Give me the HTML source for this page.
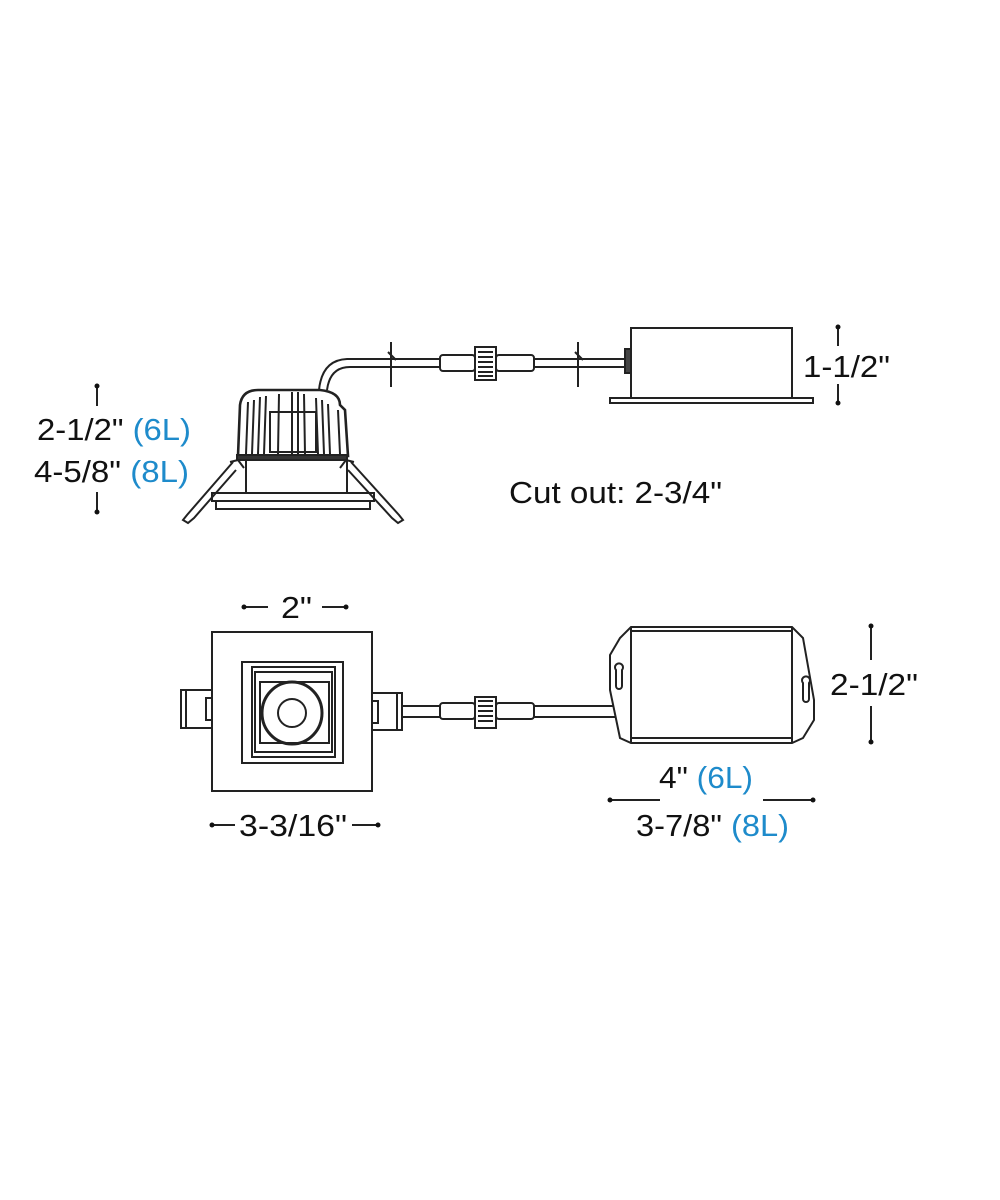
<!DOCTYPE html>
<html><head><style>
html,body{margin:0;padding:0;background:#fff;}
svg{display:block}
text{font-family:"Liberation Sans",sans-serif;font-size:31px;fill:#111;}
.b{fill:#1e8bcb;}
</style></head><body>
<svg width="1000" height="1200" viewBox="0 0 1000 1200" xmlns="http://www.w3.org/2000/svg">
<g fill="none" stroke="#222" stroke-width="2">
<rect x="631" y="328" width="161" height="72" fill="#fff"/>
<rect x="610" y="398" width="203" height="5" fill="#fff"/>
<rect x="625" y="349" width="6" height="24" fill="#444"/>
<path d="M319 390 Q322 360 347 359 L440 359 M327 390 Q330 367 350 367 L440 367"/>
<path d="M534 359 L625 359 M534 367 L625 367"/>
<rect x="440" y="355" width="35" height="16" rx="3" fill="#fff"/>
<rect x="496" y="355" width="38" height="16" rx="3" fill="#fff"/>
<rect x="475" y="347" width="21" height="33" fill="#fff"/>
<path d="M478 352h15M478 357h15M478 362h15M478 367h15M478 372h15M478 376h15"/>
<path d="M391 342 L391 387 M388 352 L396 360 M578 342 L578 387 M575 352 L583 360"/>
<path d="M238 456 L240 405 Q242 390 258 390 L320 390 Q340 392 340 405 L345 410 L348 456 Z" fill="#fff" stroke-width="2.6"/>
<path d="M246 454 L248 402 M252 454 L254 400 M258 454 L260 397 M264 454 L266 396 M278 454 L279 394 M292 454 L292 392 M298 454 L298 392 M305 454 L304 394 M318 454 L316 398 M324 454 L322 400 M330 454 L328 404 M340 454 L338 410"/>
<rect x="270" y="412" width="46" height="40"/>
<rect x="237" y="455" width="110" height="5" fill="#333"/>
<rect x="246" y="460" width="101" height="33" fill="#fff"/>
<rect x="212" y="493" width="162" height="8" fill="#fff"/>
<rect x="216" y="501" width="154" height="8" fill="#fff"/>
<path d="M233 462 L187 515 L183 520 L188 523 L194 518 L236 470 M230 462 L238 460 L244 468" />
<path d="M351 462 L399 515 L403 520 L398 523 L392 518 L348 470 M354 462 L346 460 L340 468" />
<rect x="212" y="632" width="160" height="159" fill="#fff"/>
<rect x="242" y="662" width="101" height="101"/>
<rect x="252" y="667" width="83" height="90"/>
<rect x="255" y="672" width="77" height="80"/>
<rect x="260" y="682" width="69" height="61"/>
<ellipse cx="292" cy="713" rx="30" ry="31" stroke-width="3"/>
<ellipse cx="292" cy="713" rx="14" ry="14"/>
<rect x="181" y="690" width="31" height="38" fill="#fff"/>
<rect x="206" y="698" width="6" height="22"/>
<path d="M186 690 v38"/>
<rect x="372" y="693" width="30" height="37" fill="#fff"/>
<rect x="372" y="701" width="6" height="22"/>
<path d="M397 693 v37"/>
<path d="M402 706 L440 706 M402 717 L440 717 M534 706 L618 706 M534 717 L618 717"/>
<rect x="440" y="703" width="35" height="16" rx="3" fill="#fff"/>
<rect x="496" y="703" width="38" height="16" rx="3" fill="#fff"/>
<rect x="475" y="697" width="21" height="31" fill="#fff"/>
<path d="M478 701h15M478 706h15M478 711h15M478 716h15M478 721h15"/>
<path d="M631 627 L792 627 L803 638 L814 700 L814 720 L803 738 L792 743 L631 743 L620 738 L610 690 L610 655 L620 638 Z" fill="#fff"/>
<path d="M631 627 L631 743 M792 627 L792 743 M631 631 L792 631 M631 738 L792 738"/>
<path d="M616 670 a4 4 0 1 1 6 0 v16 a3 3 0 0 1 -6 0 Z"/>
<path d="M803 683 a4 4 0 1 1 6 0 v16 a3 3 0 0 1 -6 0 Z"/>
<path d="M97 386 V406 M97 492 V512 M838 327 V346 M838 384 V403"/>
<path d="M244 607 H268 M322 607 H346 M212 825 H235 M352 825 H378 M610 800 H660 M763 800 H813 M871 626 V660 M871 706 V742"/>
</g>
<g fill="#111">
<circle cx="97" cy="386" r="2.5"/><circle cx="97" cy="512" r="2.5"/>
<circle cx="838" cy="327" r="2.5"/><circle cx="838" cy="403" r="2.5"/>
<circle cx="244" cy="607" r="2.5"/><circle cx="346" cy="607" r="2.5"/>
<circle cx="212" cy="825" r="2.5"/><circle cx="378" cy="825" r="2.5"/>
<circle cx="610" cy="800" r="2.5"/><circle cx="813" cy="800" r="2.5"/>
<circle cx="871" cy="626" r="2.5"/><circle cx="871" cy="742" r="2.5"/>
</g>
<text x="37" y="440" textLength="154" lengthAdjust="spacingAndGlyphs">2-1/2" <tspan class="b">(6L)</tspan></text>
<text x="34" y="482" textLength="155" lengthAdjust="spacingAndGlyphs">4-5/8" <tspan class="b">(8L)</tspan></text>
<text x="803" y="377" textLength="87" lengthAdjust="spacingAndGlyphs">1-1/2"</text>
<text x="509" y="503" textLength="213" lengthAdjust="spacingAndGlyphs">Cut out: 2-3/4"</text>
<text x="281" y="618" textLength="31" lengthAdjust="spacingAndGlyphs">2"</text>
<text x="239" y="836" textLength="108" lengthAdjust="spacingAndGlyphs">3-3/16"</text>
<text x="659" y="788" textLength="94" lengthAdjust="spacingAndGlyphs">4" <tspan class="b">(6L)</tspan></text>
<text x="636" y="836" textLength="153" lengthAdjust="spacingAndGlyphs">3-7/8" <tspan class="b">(8L)</tspan></text>
<text x="830" y="695" textLength="88" lengthAdjust="spacingAndGlyphs">2-1/2"</text>
</svg>
</body></html>
